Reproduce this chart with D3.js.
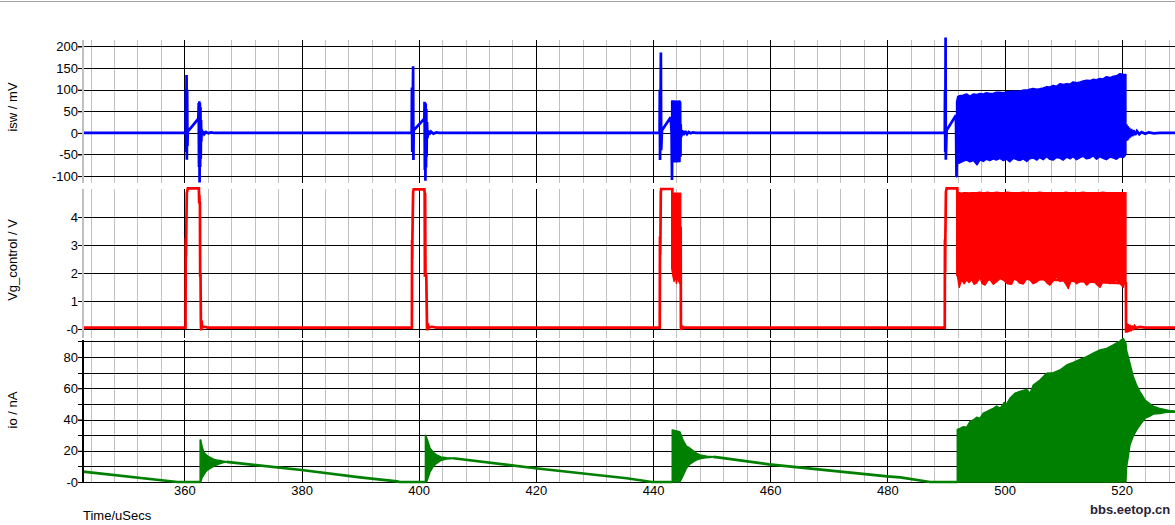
<!DOCTYPE html>
<html><head><meta charset="utf-8">
<script src="https://cdn.jsdelivr.net/npm/d3@7"></script>
<style>
body{margin:0;background:#fff;overflow:hidden;}
svg{display:block;font-family:"Liberation Sans",Arial,sans-serif;}
</style>
</head><body>
<svg id="c" width="1175" height="525"></svg>
<script>
// ---------- axis data ----------
const timeDomain = [342.7, 529.1];
const xTickValues = [360, 380, 400, 420, 440, 460, 480, 500, 520];
const xTickLabels = ["360", "380", "400", "420", "440", "460", "480", "500", "520"];
const iswDomain = [-116, 215];
const iswTicks = [-100, -50, 0, 50, 100, 150, 200];
const iswTickLabels = ["-100", "-50", "0", "50", "100", "150", "200"];
const vgDomain = [-0.32, 5.0];
const vgTicks = [0, 1, 2, 3, 4];
const vgTickLabels = ["-0", "1", "2", "3", "4"];
const ioDomain = [0, 90.9];
const ioGrid = [0, 10, 20, 30, 40, 50, 60, 70, 80, 90];
const ioTicks = [0, 20, 40, 60, 80];
const ioTickLabels = ["-0", "20", "40", "60", "80"];

// ---------- isw / mV (time, value) ----------
const iswTrace = [
  [342.7,0],[360.22,0],[360.25,101],[360.29,-44],[360.33,0],[360.38,134],[360.43,-62],[360.48,100],[360.53,-30],[360.6,5],[360.75,6],[362.39,33],
  [362.45,69],[362.5,-79],[362.55,73],[362.6,-115],[362.65,70],[362.7,-79],[362.75,60],[362.8,-60],[362.85,30],[362.9,-20],[362.95,8],[363.05,-5],[363.2,4],[363.4,-3],[363.7,2],[364.1,-1],[364.5,1],[365.0,0],
  [398.8,0],[398.85,105],[398.9,-44],[398.95,0],[399.05,154],[399.1,-63],[399.15,6],[400.97,33],
  [401.0,72],[401.05,-86],[401.1,70],[401.15,-111],[401.2,68],[401.25,-80],[401.3,55],[401.35,-55],[401.42,25],[401.5,-12],[401.6,6],[401.8,-4],[402.1,3],[402.5,-2],[403.0,1],[403.5,0],
  [441.12,0],[441.16,100],[441.2,-63],[441.26,0],[441.34,186],[441.4,-40],[441.53,6],[443.02,36],[443.18,0],[443.24,-109],[443.3,0],
  [444.6,0],[444.62,72],[444.68,-55],[444.72,20],[444.8,-10],[444.95,6],[445.2,-5],[445.5,4],[445.8,-3],[446.1,2],[446.4,-1],[446.8,1],[447.3,0],
  [489.8,0],[489.84,100],[489.88,-44],[489.9,0],[489.94,221],[489.98,-62],[490.12,6],[491.71,41],[491.8,-102],[491.85,0],
  [520.72,0],[520.8,20],[520.9,-18],[521.0,16],[521.1,-15],[521.25,12],[521.4,-11],[521.6,9],[521.8,-8],[522.0,6],[522.3,-5],[522.6,4],[523.0,-3],[523.4,2],[524.0,-2],[524.6,1],[525.5,-1],[526.5,0],[529.1,0]
];
// burst envelopes (time, low, high)
const iswBurst3 = [[443.18,-67,74],[443.6,-66,74],[444.0,-67,73],[444.61,-66,74]];
const iswBurst4 = [
  [491.82,-102,72],[492.0,-67,84],[492.3,-70,86],[492.9,-66,87],[493.5,-63,90],[494.1,-67,85],[494.7,-64,90],[495.3,-74,89],
  [495.8,-63,91],[496.4,-66,90],[496.9,-61,93],[497.5,-64,91],[498.1,-60,92],[498.6,-63,94],[499.2,-59,94],[499.8,-64,93],
  [500.4,-61,95],[500.9,-67,96],[501.5,-59,97],[502.1,-62,96],[502.6,-64,97],[503.2,-60,99],[503.8,-66,99],[504.3,-60,101],
  [504.9,-58,103],[505.5,-63,101],[506.0,-57,102],[506.6,-62,104],[507.2,-55,107],[507.7,-61,106],[508.3,-63,110],[508.9,-57,108],
  [509.5,-59,114],[510.0,-63,112],[510.6,-56,114],[511.2,-60,113],[511.7,-55,118],[512.3,-62,116],[512.9,-57,118],[513.4,-54,120],
  [514.0,-60,122],[514.6,-58,121],[515.1,-53,124],[515.7,-61,123],[516.3,-55,126],[516.8,-59,125],[517.4,-62,130],[518.0,-56,128],
  [518.6,-58,131],[519.1,-61,132],[519.7,-55,137],[520.3,-57,135],[520.72,-50,135]
];

// ---------- Vg_control / V ----------
const vgTrace = [
  [342.7,0.05],[360.2,0.05],[360.24,3.24],[360.28,2.6],[360.32,3.3],[360.42,4.85],[360.6,5.02],[362.48,5.02],[362.52,4.5],[362.56,4.8],[362.6,4.5],[362.66,4.5],[362.7,1.87],[362.76,2.0],[362.82,0.3],[362.86,-0.05],[362.95,0.3],[363.05,0.05],[363.4,0.08],[364,0.05],
  [398.84,0.05],[398.87,3.18],[398.9,2.5],[398.93,3.3],[399.05,4.9],[399.15,4.99],[400.97,4.99],[401.02,4.85],[401.06,1.87],[401.1,4.85],[401.16,2.0],[401.3,1.9],[401.42,0.05],[401.46,-0.05],[401.55,0.2],[401.7,0.05],[402.3,0.08],[403,0.05],
  [441.15,0.05],[441.19,3.3],[441.23,2.64],[441.27,3.3],[441.33,4.9],[441.4,5.0],[443.3,5.0],[443.32,2.2],
  [444.68,3.6],[444.72,3.6],[444.76,0.08],[444.82,-0.03],[444.95,0.1],[445.2,0.05],
  [489.8,0.05],[489.83,3.2],[489.87,2.05],[489.9,3.2],[490.0,4.9],[490.12,5.02],[491.94,5.02],[491.96,1.93],
  [520.72,1.63],[520.75,-0.13],[520.8,0.2],[520.9,-0.13],[521.0,0.18],[521.15,-0.1],[521.3,0.15],[521.5,-0.08],[521.7,0.12],[521.9,-0.03],[522.2,0.1],[522.5,0.03],[523,0.08],[524,0.05],[529.1,0.05]
];
const vgBurst3 = [[443.2,2.17,4.9],[443.4,1.9,4.85],[443.6,1.7,4.85],[443.8,2.0,4.85],[444.0,1.63,4.85],[444.2,1.9,4.85],[444.4,1.7,4.85],[444.6,1.63,4.85],[444.72,3.6,4.85]];
const vgBurst4 = [
  [491.94,1.93,4.87],[492.28,1.49,4.87],[492.67,1.77,4.85],[493.1,1.62,4.87],[493.53,1.75,4.87],[493.95,1.66,4.86],[494.38,1.77,4.87],[494.8,1.6,4.87],
  [495.24,1.65,4.87],[495.8,1.84,4.88],[496.2,1.62,4.87],[496.66,1.57,4.87],[497.1,1.72,4.88],[497.51,1.77,4.87],[498.1,1.6,4.87],[498.65,1.69,4.88],
  [499.2,1.8,4.87],[499.79,1.75,4.87],[500.5,1.62,4.88],[501.21,1.6,4.87],[501.6,1.78,4.87],[502.06,1.75,4.87],[502.6,1.64,4.87],[503.2,1.61,4.88],
  [503.8,1.79,4.87],[504.34,1.75,4.87],[504.9,1.62,4.87],[505.48,1.68,4.87],[506.0,1.76,4.88],[506.61,1.81,4.87],[507.2,1.66,4.87],[507.75,1.57,4.87],
  [508.3,1.72,4.87],[508.89,1.87,4.87],[509.5,1.7,4.87],[510.03,1.75,4.87],[510.5,1.6,4.88],[510.88,1.45,4.87],[511.3,1.7,4.87],[511.73,1.75,4.87],
  [512.3,1.62,4.87],[512.87,1.69,4.87],[513.4,1.74,4.88],[514.01,1.57,4.87],[514.6,1.68,4.87],[515.15,1.75,4.87],[515.7,1.6,4.87],[516.29,1.49,4.87],
  [516.8,1.7,4.88],[517.42,1.69,4.87],[518.0,1.62,4.87],[518.56,1.69,4.87],[519.1,1.74,4.87],[519.7,1.63,4.87],[520.27,1.49,4.87],[520.55,1.75,4.87],[520.72,1.63,4.87]
];

// ---------- io / nA ----------
const ioTrace = [
  [342.7,6.6],[358.8,0],[362.7,0],[362.7,null],
  [367.2,12.9],[380,7.7],[390,3.0],[396.3,0.4],[396.8,0],[401.15,0],[401.15,null],
  [405.9,15.2],[419.9,8.8],[435.5,2.4],[439.8,0],[443.28,0],[443.28,null],
  [450.3,16.1],[451.4,15.6],[459.8,11.3],[480,3.6],[482.2,3.0],[487.3,0],[491.94,0],[491.94,null],
  [527.66,45.3],[529.1,45]
];
const ioBurst1 = [[362.7,0,26.9],[362.8,0.2,26.9],[363.0,2.5,23],[363.3,4.5,19.4],[363.6,6.2,17.8],[364.0,7.8,16.6],[364.4,8.8,15.8],[365.0,10.0,14.6],[365.5,10.9,14.1],[366.1,11.8,13.7],[366.7,12.4,13.3],[367.2,12.8,13.0]];
const ioBurst2 = [[401.15,0,30],[401.4,0.5,28],[401.94,6.5,21.6],[402.5,10,19],[403.07,12,17.3],[403.8,13.8,16],[404.78,14.8,15.6],[405.9,15.1,15.3]];
const ioBurst3 = [[443.28,0,33.3],[444.2,0,32.5],[444.6,0.2,32],[445.0,3,28],[445.3,5.5,25.5],[445.7,8.8,23],[446.3,11.5,21.6],[447.4,14.1,18.5],[448,14.8,17.3],[449.2,15.6,16.5],[450.3,16,16.2]];
const ioBurst4 = [
  [491.94,0,33.7],[492.39,0,34.3],[492.96,0,35.4],[493.53,0,35.0],[494.1,0,38.7],[494.67,0,39.7],[495.24,0,41.4],[495.8,0,40.7],
  [496.37,0,44.0],[496.94,0,45.0],[497.51,0,46.1],[498.08,0,47.1],[498.65,0,48.6],[499.22,0,47.1],[499.96,0,50.9],[500.36,0,50.0],
  [500.92,0,53.6],[501.78,0,56.8],[502.63,0,57.9],[503.77,0,59.3],[504.34,0,56.8],[504.91,0,62.1],[506.05,0,65.3],[507.18,0,69.6],
  [508.32,0,70.0],[509.46,0,71.7],[510.6,0,74.9],[511.73,0,76.6],[512.87,0,78.5],[514.01,0,80.2],[515.15,0,82.4],[516.29,0,84.5],
  [517.42,0,85.5],[518.56,0,87.7],[519.7,0,90.2],[520.27,0,91.9],[520.72,0,88.7],[520.84,9.8,84],[521.12,16.2,80.2],[521.41,23.7,75.9],
  [521.98,29.4,67.4],[522.54,33.3,62.1],[523.11,36.5,57.9],[523.97,40.7,52.5],[524.82,42.2,50],[525.39,43.5,48.6],[526.53,43.9,47],
  [527.66,44.6,46.1],[529.1,44.8,45]
];

// ---------- drawing ----------
const svg = d3.select("#c");
const x = d3.scaleLinear().domain(timeDomain).range([83, 1175]);
const yIsw = d3.scaleLinear().domain(iswDomain).range([183, 40]);
const yVg = d3.scaleLinear().domain(vgDomain).range([338, 189]);
const yIo = d3.scaleLinear().domain(ioDomain).range([482, 340]);

svg.append("line").attr("x1", 0).attr("x2", 1175).attr("y1", 1.5).attr("y2", 1.5)
  .attr("stroke", "#a0a0a0").attr("stroke-width", 1);

const minorX = d3.range(344, 530, 4).filter(t => t % 20 !== 0);
const majorX = xTickValues;

function panel(y, top, bottom, hGrid, ticks, labels, axisColor, lines, areas, color) {
  const g = svg.append("g");
  g.selectAll(".vmin").data(minorX).join("line")
    .attr("x1", d => Math.round(x(d)) + 0.5).attr("x2", d => Math.round(x(d)) + 0.5)
    .attr("y1", top).attr("y2", bottom).attr("stroke", "#c0c0c0").attr("stroke-width", 1);
  g.selectAll(".vmaj").data(majorX).join("line")
    .attr("x1", d => Math.round(x(d)) + 0.5).attr("x2", d => Math.round(x(d)) + 0.5)
    .attr("y1", top).attr("y2", bottom).attr("stroke", "#000").attr("stroke-width", 1);
  g.selectAll(".h").data(hGrid).join("line")
    .attr("x1", 78).attr("x2", 1175)
    .attr("y1", d => Math.round(y(d)) + 0.5).attr("y2", d => Math.round(y(d)) + 0.5)
    .attr("stroke", "#000").attr("stroke-width", 1);
  const area = d3.area().x(d => x(d[0])).y0(d => y(d[1])).y1(d => y(d[2]));
  areas.forEach(a => {
    g.append("path").attr("d", area(a)).attr("fill", color)
      .attr("stroke", color).attr("stroke-width", 1.5).attr("stroke-linejoin", "round");
  });
  const line = d3.line().defined(d => d[1] !== null).x(d => x(d[0])).y(d => y(d[1]));
  lines.forEach(l => {
    g.append("path").attr("d", line(l)).attr("fill", "none")
      .attr("stroke", color).attr("stroke-width", 2.7).attr("stroke-linejoin", "miter").attr("stroke-miterlimit", 2);
  });
  const ax = g.append("g").attr("transform", "translate(83,0)")
    .call(d3.axisLeft(y).tickValues(ticks).tickSize(5).tickPadding(0)
      .tickFormat((d, i) => labels[i]));
  ax.select(".domain").remove();
  ax.selectAll("text").attr("font-size", 13).attr("font-family", "Liberation Sans, Arial, sans-serif").attr("fill", "#000");
  ax.selectAll("line").attr("stroke", "#000");
  g.append("line").attr("x1", 83).attr("x2", 83).attr("y1", top).attr("y2", bottom)
    .attr("stroke", axisColor).attr("stroke-width", 2);
}

panel(yIsw, 40, 183, iswTicks, iswTicks, iswTickLabels, "#c0c0c0", [iswTrace], [iswBurst3, iswBurst4], "#0000ff");
panel(yVg, 189, 338, vgTicks, vgTicks, vgTickLabels, "#c0c0c0", [vgTrace], [vgBurst3, vgBurst4], "#ff0000");
panel(yIo, 340, 482, ioGrid, ioTicks, ioTickLabels, "#000", [ioTrace], [ioBurst1, ioBurst2, ioBurst3, ioBurst4], "#008000");

const xa = svg.append("g").attr("transform", "translate(0,482)")
  .call(d3.axisBottom(x).tickValues(xTickValues).tickSize(0).tickPadding(4)
    .tickFormat((d, i) => xTickLabels[i]));
xa.select(".domain").remove();
xa.selectAll("text").attr("font-size", 13).attr("font-family", "Liberation Sans, Arial, sans-serif").attr("fill", "#000");

const titles = [["isw / mV", 107], ["Vg_control / V", 260], ["io / nA", 410]];
svg.selectAll(".yt").data(titles).join("text")
  .attr("transform", d => `translate(17,${d[1]}) rotate(-90)`)
  .attr("text-anchor", "middle").attr("font-size", 13).attr("fill", "#000")
  .text(d => d[0]);

svg.append("text").attr("x", 83).attr("y", 520).attr("font-size", 13).attr("fill", "#000").text("Time/uSecs");

svg.append("text").attr("x", 1090).attr("y", 514).attr("font-size", 13).attr("font-weight", "bold")
  .attr("font-family", "Liberation Sans, Arial, sans-serif")
  .attr("fill", "#2b1d36").text("bbs.eetop.cn");
</script>
</body></html>
